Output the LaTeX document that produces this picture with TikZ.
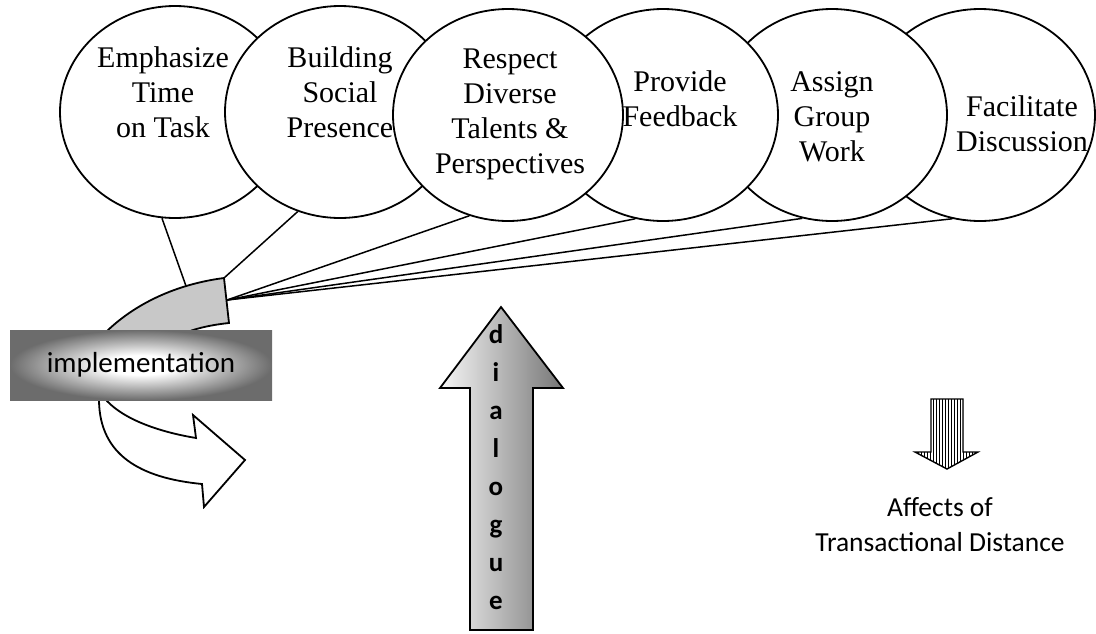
\documentclass[tikz,border=0pt]{standalone}
\usepackage{fontspec}
\setmainfont{Liberation Serif}
\newfontfamily\calfont{Carlito}
\usetikzlibrary{shapes.geometric,patterns}
\definecolor{bandgray}{RGB}{200,200,200}
\definecolor{boxgray}{RGB}{108,108,108}
\definecolor{dlight}{RGB}{246,246,246}
\definecolor{ddark}{RGB}{118,118,118}
\pgfdeclareradialshading{implshade}{\pgfpoint{0bp}{0bp}}{color(0bp)=(white); color(7bp)=(white); color(25bp)=(boxgray); color(50bp)=(boxgray)}

\begin{document}
\begin{tikzpicture}[
			x=1pt, y=-1pt,
			bubble/.style={ellipse, draw, fill=white, line width=1.8pt, minimum width=230pt, minimum height=212pt, inner sep=0pt},
			bubbletext/.style={align=center, inner sep=0pt, font=\fontsize{30}{35}\selectfont},
			fanline/.style={line width=1.5pt},
			outline/.style={draw=black, line width=1.8pt},
			sanstext/.style={align=center, inner sep=0pt, font=\calfont\fontsize{27.5}{35}\selectfont}
			]
			\useasboundingbox (0,0) rectangle (1096,633);
			\node[bubble] (emph) at (175,112) {};
			\node[bubble] (build) at (340,112) {};
			\node[bubble] (facil) at (980,115) {};
			\node[bubble] (asgn) at (832,115) {};
			\node[bubble] (prov) at (663,115) {};
			\node[bubble] (resp) at (508,115) {};
			\node[bubbletext] (emphtxt) at (163,92.5) {Emphasize\\Time\\on Task};
			\node[bubbletext] (buildtxt) at (340,92.5) {Building\\Social\\Presence};
			\node[bubbletext] (resptxt) at (510,114) {Respect\\Diverse\\Talents \&\\Perspectives};
			\node[bubbletext] (provtxt) at (680,99) {Provide\\Feedback};
			\node[bubbletext] (asgntxt) at (832,117) {Assign\\Group\\Work};
			\node[bubbletext] (faciltxt) at (1022,124) {Facilitate\\Discussion};
			\draw[outline, fill=white] (99,390) -- (99,401) .. controls (100,455) and (140,478) .. (202,484)
				-- (204,507) -- (245,460) -- (193,415) -- (196,438)
				.. controls (160,432) and (125,420) .. (107,401) -- (107,390) -- cycle;
			\draw[outline, fill=bandgray] (105,345) -- (105,333) .. controls (130,308) and (170,285) .. (224,278)
				-- (229,323) .. controls (210,325) and (192,329) .. (178,336) -- (178,345) -- cycle;
			\coordinate (gtop) at (224,278);
			\coordinate (garc) at (186,286);
			\coordinate (hub) at (227,300);
			\draw[fanline] (emph.263) -- (garc);
			\draw[fanline] (build.247) -- (gtop);
			\foreach \tgt/\ang in {resp/249, prov/255, asgn/254, facil/255}
				\draw[fanline] (hub) -- (\tgt.\ang);
			\node[rectangle, minimum width=262pt, minimum height=70pt, inner sep=0pt, shading=implshade,
				font=\calfont\fontsize{29}{35}\selectfont] (impl) at (141,365) {implementation};
			\draw[outline, left color=dlight, right color=ddark] (470,630) -- (470,388) -- (440,388) -- (501,307)
				-- (563,388) -- (533,388) -- (533,630) -- cycle;
			\node[align=center, inner sep=0pt, font=\calfont\bfseries\fontsize{27}{38}\selectfont] (dlg) at (496,467) {d\\i\\a\\l\\o\\g\\u\\e};
			\draw[outline, line width=1.4pt, pattern=vertical lines] (931,399) -- (963,399) -- (963,452) -- (978,452)
				-- (947,469) -- (915,452) -- (931,452) -- cycle;
			\node[sanstext] (affects) at (940,524.5) {Affects of\\Transactional Distance};
		\end{tikzpicture}
\end{document}
